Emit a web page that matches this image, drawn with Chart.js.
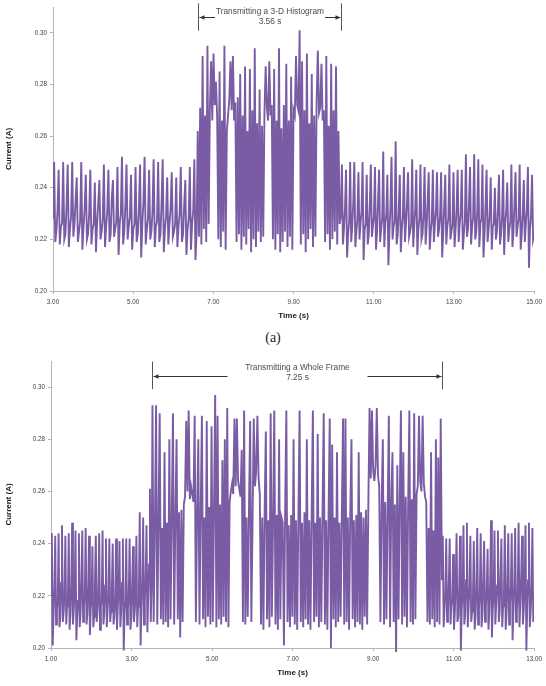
<!DOCTYPE html>
<html>
<head>
<meta charset="utf-8">
<script src="https://cdn.jsdelivr.net/npm/chart.js@4.4.0/dist/chart.umd.min.js"></script>
<style>
  html, body { margin: 0; padding: 0; background: #fff; }
  body { width: 546px; height: 686px; position: relative; overflow: hidden; }
  canvas { position: absolute; left: 0; }
  #top-chart { top: 0; }
  #bottom-chart { top: 350px; }
  #caption { position: absolute; top: 330px; left: 0; width: 546px; text-align: center;
             font: 14px "Liberation Serif", serif; color: #222; }
</style>
</head>
<body>
<canvas id="top-chart" width="546" height="330"></canvas>
<div id="caption">(a)</div>
<canvas id="bottom-chart" width="546" height="336"></canvas>
<script>
// current samples in mA, evenly spaced inside each time span
const topSpans = [3.00, 6.61, 10.18, 15.00];
const topXTicks = [3, 5, 7, 9, 11, 13, 15];

const topIdleBefore = [
    228,250,219,223, 231,247,218,225, 226,250,220,222, 233,249,217,224,
    229,250,221,226, 235,244,219,223, 227,250,216,225, 232,245,220,222,
    230,247,218,224, 226,242,215,226, 234,243,220,223, 228,249,217,225,
    231,247,219,222, 236,243,221,224, 227,248,214,226, 230,252,218,223,
    233,249,220,225, 229,245,216,224, 226,248,219,222, 232,249,213,226,
    235,252,218,224, 228,247,220,223, 231,251,217,225, 227,250,219,222,
    234,251,215,224, 229,244,218,226, 232,246,221,223, 226,244,217,225,
    230,248,219,222, 233,243,214,224, 228,248,216,226, 231,251,212,223
];

const topBurst = [
    262,221,271,218,291,224,268,219,295,226,
    270,289,266,292,272,281,268,
    220,285,217,266,223,295,216,262,
    268,274,289,270,291,266,273,
    219,275,222,284,216,268,221,287,218,262,224,286,215,270,220,294,217,265,223,278,219,264,221,
    269,287,271,266,289,268,272,
    220,286,216,266,222,294,215,263,219,272,223,288,217,266,221,283,216,270,
    268,291,272,270,301,
    218,289,222,270,215,292,220,265,224,284,217,268,221,
    273,293,269,271,288,266,270,
    219,291,222,264,216,288,220,270,223,287,218,262,226
];

const topIdleAfter = [
    229,249,218,224, 232,247,213,222, 227,250,219,225, 234,250,217,223,
    228,246,220,226, 231,250,212,224, 226,245,218,222, 233,249,221,225,
    229,248,216,223, 235,247,219,224, 228,254,217,226, 230,245,210,223,
    233,252,220,225, 227,258,218,222, 231,245,215,224, 229,248,219,226,
    234,246,221,223, 226,251,217,225, 232,247,214,224, 228,249,220,222,
    230,248,218,225, 235,246,216,223, 227,247,219,226, 231,246,221,224,
    229,246,213,222, 233,245,218,225, 228,249,220,223, 226,246,217,224,
    232,247,219,226, 230,247,216,222, 227,253,221,224, 234,248,218,225,
    229,253,220,223, 231,251,217,226, 228,249,213,222, 233,247,219,224,
    230,244,216,225, 226,240,220,223, 232,245,218,222, 229,247,214,226,
    231,242,219,224, 227,249,217,223, 234,246,221,225, 228,249,216,222,
    230,243,219,226, 232,248,209,224, 229,245,220,222
];

const bottomSpans = [1.00, 3.52, 10.71, 13.00];
const bottomXTicks = [1, 3, 5, 7, 9, 11, 13];

const bottomIdleBefore = [
    220,244,201,213, 223,243,209,215, 218,244,208,212, 225,247,210,214,
    221,243,209,216, 219,244,207,213, 224,248,209,215, 222,245,203,212,
    218,244,208,214, 226,245,210,216, 220,246,209,213, 223,243,205,215,
    219,239,208,212, 225,243,210,214, 221,244,207,216, 218,245,209,213,
    224,242,208,215, 220,242,210,214, 223,240,209,212, 219,242,207,216,
    222,241,208,214, 225,242,199,213, 218,242,209,215, 221,242,207,212,
    224,239,210,214, 220,243,208,216, 223,252,201,215, 226,250,209,218,
    228,247,206,220, 232,261,210,224
];

const bottomBurst = [
    293,210,245,293,209,247,290,211,246,209,
    275,210,248,208,280,211,249,290,209,250,
    280,211,252,204,253,210,255,258,287,260,
    291,257,262,259,256,289,210,251,280,209,
    253,289,211,250,208,287,212,254,209,285,
    210,252,297,208,289,211,255,209,272,212,
    280,210,292,208,256,260,263,259,288,262,
    288,264,261,258,276,210,291,209,250,212,
    252,287,210,249,288,262,268,289,265,259,
    209,250,207,252,283,211,249,208,290,212,
    248,291,209,251,207,280,211,250,248,201,
    252,291,210,247,208,251,212,280,209,249,
    207,250,291,210,248,208,252,211,280,209,
    249,207,251,291,210,248,212,282,208,250,
    210,252,290,209,249,207,251,288,200,278,
    211,250,208,275,210,248,212,251,288,209,
    288,210,250,207,252,280,211,249,208,251,
    210,275,209,252,207,250,212,253,209,255,
    292,265,291,268,264,270,292,266,262,210,
    254,280,209,256,211,253,289,208,257,275,
    210,255,197,270,211,256,291,209,275,212,
    258,208,255,291,210,257,209,290,211,259,
    262,289,264,260,289,263,258,256,210,246,
    209,275,211,245,208,280,210,273,209,288
];

const bottomIdleAfter = [
    226,243,208,215, 221,242,210,213, 224,242,209,216, 219,236,207,214,
    225,244,210,212, 222,243,199,215, 220,247,209,213, 226,248,208,216,
    223,243,210,214, 219,241,207,212, 224,246,209,215, 221,244,208,213,
    227,241,210,216, 222,238,207,214, 225,249,204,215, 220,245,209,217,
    224,245,210,214, 228,242,208,216, 221,247,207,213, 226,244,209,217,
    223,244,203,215, 225,246,210,214, 222,248,208,217, 228,243,209,215,
    224,247,199,216, 226,248,208,214, 223,246,210,215
];

const yTicks = [0.20, 0.22, 0.24, 0.26, 0.28, 0.30];

const lineColor = 'rgb(122, 92, 165)';
const axisColor = '#b5b5b5';
const tickColor = '#404040';
const titleColor = '#1a1a1a';
const tickFont = { family: 'Liberation Sans', size: 6.3 };
const titleFont = { family: 'Liberation Sans', size: 8, weight: 'bold' };

function buildSeries(spans, segments) {
    const points = [];
    segments.forEach(function (values, s) {
        const start = spans[s];
        const end = spans[s + 1];
        const last = s === segments.length - 1;
        const step = (end - start) / (last ? values.length - 1 : values.length);
        values.forEach(function (mA, i) {
            points.push({ x: start + i * step, y: mA / 1000 });
        });
    });
    return points;
}

function bracketPlugin(cfg) {
    return {
        id: 'bracket',
        afterDraw: function (chart) {
            const ctx = chart.ctx;
            const x = chart.scales.x;
            const y = chart.scales.y;
            const left = Math.round(x.getPixelForValue(cfg.span[0])) + 0.5;
            const right = Math.round(x.getPixelForValue(cfg.span[1])) + 0.5;
            const mid = (left + right) / 2;
            const top = y.getPixelForValue(cfg.lineTop);
            const bottom = y.getPixelForValue(cfg.lineBottom);
            const arrowY = Math.round(y.getPixelForValue(cfg.arrowAt)) + 0.5;

            ctx.save();
            ctx.strokeStyle = '#555';
            ctx.lineWidth = 1;
            [left, right].forEach(function (px) {
                ctx.beginPath();
                ctx.moveTo(px, top);
                ctx.lineTo(px, bottom);
                ctx.stroke();
            });

            ctx.strokeStyle = '#333';
            ctx.fillStyle = '#333';
            [[left + 1, mid - cfg.gap, -1], [right - 1, mid + cfg.gap, 1]].forEach(function (s) {
                ctx.beginPath();
                ctx.moveTo(s[0], arrowY);
                ctx.lineTo(s[1], arrowY);
                ctx.stroke();
                ctx.beginPath();
                ctx.moveTo(s[0], arrowY);
                ctx.lineTo(s[0] - s[2] * 5, arrowY - 2.2);
                ctx.lineTo(s[0] - s[2] * 5, arrowY + 2.2);
                ctx.closePath();
                ctx.fill();
            });

            ctx.fillStyle = '#4d4d4d';
            ctx.font = '8.3px "Liberation Sans"';
            ctx.textAlign = 'center';
            ctx.textBaseline = 'middle';
            ctx.fillText(cfg.text[0], mid, y.getPixelForValue(cfg.textAt[0]));
            ctx.fillText(cfg.text[1], mid, y.getPixelForValue(cfg.textAt[1]));
            ctx.restore();
        }
    };
}

function makeChart(id, points, xTicks, bracket, padding, yWidth) {
    return new Chart(document.getElementById(id), {
        type: 'line',
        data: {
            datasets: [{
                data: points,
                borderColor: lineColor,
                borderWidth: 1.9,
                pointRadius: 0,
                tension: 0,
                fill: false,
                clip: { left: 0, top: 0, right: 0, bottom: 4 }
            }]
        },
        options: {
            responsive: false,
            animation: false,
            layout: { padding: padding },
            plugins: { legend: { display: false }, tooltip: { enabled: false } },
            scales: {
                x: {
                    type: 'linear',
                    min: xTicks[0],
                    max: xTicks[xTicks.length - 1],
                    afterBuildTicks: function (scale) {
                        scale.ticks = xTicks.map(function (v) { return { value: v }; });
                    },
                    afterFit: function (scale) { scale.height = 30; },
                    ticks: {
                        callback: function (v) { return v.toFixed(2); },
                        font: tickFont, color: tickColor, padding: 4,
                        maxRotation: 0, autoSkip: false
                    },
                    grid: { drawOnChartArea: false, tickLength: 3, color: axisColor },
                    border: { color: axisColor },
                    title: { display: true, text: 'Time (s)', font: titleFont, color: titleColor, padding: 0 }
                },
                y: {
                    min: 0.20,
                    max: 0.31,
                    afterBuildTicks: function (scale) {
                        scale.ticks = yTicks.map(function (v) { return { value: v }; });
                    },
                    afterFit: function (scale) { scale.width = yWidth; },
                    ticks: {
                        callback: function (v) { return v.toFixed(2); },
                        font: tickFont, color: tickColor, padding: 3
                    },
                    grid: { drawOnChartArea: false, tickLength: 3, color: axisColor },
                    border: { color: axisColor },
                    title: { display: true, text: 'Current (A)', font: titleFont, color: titleColor,
                             padding: { top: 4, bottom: 0 } }
                }
            }
        },
        plugins: [bracketPlugin(bracket)]
    });
}

makeChart('top-chart',
    buildSeries(topSpans, [topIdleBefore, topBurst, topIdleAfter]),
    topXTicks,
    {
        span: [6.61, 10.18],
        lineTop: 0.3114, lineBottom: 0.3008, arrowAt: 0.3062,
        text: ['Transmitting a 3-D Histogram', '3.56 s'],
        textAt: [0.3081, 0.3043],
        gap: 55
    },
    { top: 7, right: 10, bottom: 9, left: 0 },
    53);

makeChart('bottom-chart',
    buildSeries(bottomSpans, [bottomIdleBefore, bottomBurst, bottomIdleAfter]),
    bottomXTicks,
    {
        span: [3.52, 10.71],
        lineTop: 0.3098, lineBottom: 0.2992, arrowAt: 0.3044,
        text: ['Transmitting a Whole Frame', '7.25 s'],
        textAt: [0.3074, 0.3036],
        gap: 70
    },
    { top: 11, right: 7, bottom: 8, left: 0 },
    51);
</script>
</body>
</html>
